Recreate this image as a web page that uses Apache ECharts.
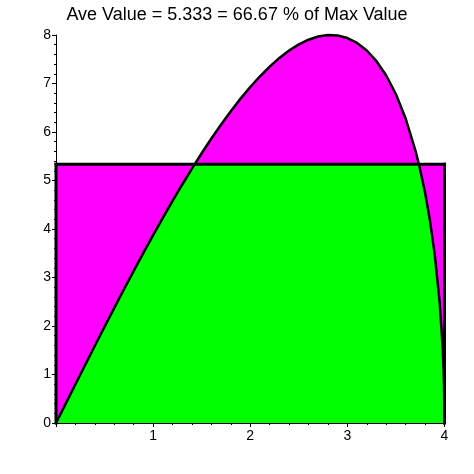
<!DOCTYPE html>
<html>
<head>
<meta charset="utf-8">
<script src="https://cdn.jsdelivr.net/npm/echarts@6/dist/echarts.min.js"></script>
<style>
  html, body { margin: 0; padding: 0; background: #fff; }
  #chart { width: 474px; height: 474px; }
</style>
</head>
<body>
<div id="chart"></div>
<script>
// values
const titleText = 'Ave Value = 5.333 = 66.67 % of Max Value'
const aveValue = 5.333
const xMin = 0
const xMax = 4
const xs = [0, 0.1, 0.2, 0.3, 0.4, 0.5, 0.6, 0.7, 0.8, 0.9, 1.0, 1.1, 1.2, 1.3, 1.4, 1.427,
  1.5, 1.6, 1.7, 1.8, 1.9, 2.0, 2.1, 2.2, 2.3, 2.4, 2.5, 2.6, 2.7, 2.8, 2.9, 3.0, 3.1, 3.2,
  3.3, 3.4, 3.5, 3.6, 3.7, 3.737, 3.8, 3.85, 3.9, 3.95, 3.98, 3.99, 3.995, 4.0]
const ys = [0, 0.400, 0.799, 1.197, 1.592, 1.984, 2.373, 2.757, 3.135, 3.508, 3.873, 4.230,
  4.579, 4.918, 5.246, 5.333, 5.562, 5.866, 6.155, 6.430, 6.688, 6.928, 7.149, 7.349, 7.527,
  7.680, 7.806, 7.903, 7.968, 7.998, 7.989, 7.937, 7.836, 7.680, 7.460, 7.164, 6.778, 6.277,
  5.623, 5.333, 4.746, 4.178, 3.466, 2.490, 1.590, 1.128, 0.799, 0]
const yTicks = [0, 1, 2, 3, 4, 5, 6, 7, 8]
const xTicks = [1, 2, 3, 4]

const magenta = '#ff00ff'
const green = '#00ff00'

const curve = xs.map((x, i) => [x, ys[i]])
const lower = xs.map((x, i) => [x, Math.min(ys[i], aveValue)])
const rectTop = [[xMin, aveValue], [xMax, aveValue]]

const chart = echarts.init(document.getElementById('chart'))

function areaSeries(data, color) {
	return {
		type: 'line',
		data: data,
		showSymbol: false,
		silent: true,
		lineStyle: { width: 0 },
		areaStyle: { color: color, opacity: 1, origin: 'start' },
	}
}

function edgeSeries(data, width) {
	return {
		type: 'line',
		data: data,
		showSymbol: false,
		silent: true,
		clip: false,
		lineStyle: { color: '#000', width: width, cap: 'square' },
	}
}

chart.setOption({
	backgroundColor: '#fff',
	animation: false,
	title: {
		text: titleText,
		left: 'center',
		top: 1,
		textStyle: {
			fontFamily: 'Liberation Sans',
			fontSize: 18,
			fontWeight: 'normal',
			color: '#000',
		},
	},
	grid: { left: 56, right: 29.5, top: 35, bottom: 51 },
	xAxis: {
		type: 'value',
		min: xMin,
		max: xMax,
		interval: 1,
		axisLine: { lineStyle: { color: '#000', width: 1 } },
		axisTick: { show: true, length: 4, lineStyle: { color: '#000' } },
		minorTick: { show: true, splitNumber: 5, length: 2, lineStyle: { color: '#000' } },
		splitLine: { show: false },
		axisLabel: {
			color: '#000',
			fontFamily: 'Liberation Sans',
			fontSize: 14,
			margin: 6,
			formatter: (v) => (xTicks.includes(v) ? String(v) : ''),
		},
	},
	yAxis: {
		type: 'value',
		min: 0,
		max: 8,
		interval: 1,
		axisLine: { show: true, lineStyle: { color: '#000', width: 1 } },
		axisTick: { show: true, length: 4, lineStyle: { color: '#000' } },
		minorTick: { show: true, splitNumber: 5, length: 2, lineStyle: { color: '#000' } },
		splitLine: { show: false },
		axisLabel: {
			color: '#000',
			fontFamily: 'Liberation Sans',
			fontSize: 14,
			margin: 5,
			formatter: (v) => (yTicks.includes(v) ? String(v) : ''),
		},
	},
	series: [
		areaSeries(rectTop, magenta),
		areaSeries(curve, magenta),
		areaSeries(lower, green),
		edgeSeries(curve, 2.5),
		edgeSeries(rectTop, 3),
		edgeSeries([[xMin, 0], [xMin, aveValue]], 3),
		edgeSeries([[xMax, 0], [xMax, aveValue]], 3),
	],
})
</script>
</body>
</html>
